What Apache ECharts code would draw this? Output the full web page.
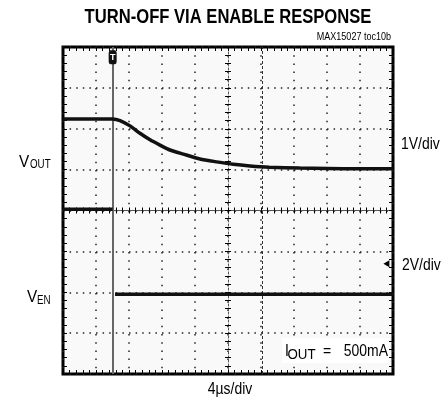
<!DOCTYPE html>
<html>
<head>
<meta charset="utf-8">
<script src="https://cdn.jsdelivr.net/npm/echarts@6/dist/echarts.min.js"></script>
<style>
  html, body { margin: 0; padding: 0; background: #fff; }
  #main { width: 448px; height: 400px; }
</style>
</head>
<body>
<div id="main"></div>
<script>
var chart = echarts.init(document.getElementById('main'));

// time in us (4us/div, 10 div), level in screen divisions (-4 .. 4)
var voutTime = [0, 6.02, 6.91, 8.12, 9.33, 10.55, 11.76, 12.97, 14.58, 16.6, 18.63, 20.64, 22.67, 25.0, 28.7, 32, 36, 40];
var voutDiv  = [2.24, 2.24, 2.20, 2.07, 1.89, 1.73, 1.60, 1.48, 1.38, 1.26, 1.19, 1.13, 1.09, 1.06, 1.04, 1.03, 1.02, 1.02];

var venTime = [0, 6.02, 6.15, 6.3, 40];
var venDiv  = [0.03, 0.03, null, -2.05, -2.05];

var triggerTime = 6.02;
var cursorTime = 24.1;
var enArrow = [39.2, -1.3];

var FONT = '"Liberation Sans", Arial, sans-serif';

function pairs(xs, ys) {
        var out = [];
        for (var i = 0; i < xs.length; i++) {
                out.push([xs[i], ys[i] === null ? '-' : ys[i]]);
        }
        return out;
}

function frameAxis(pos, extra) {
        var a = {
                type: 'value',
                position: pos,
                axisLine: { show: false, onZero: false },
                axisTick: { show: true, inside: true, length: 4, lineStyle: { color: '#000', width: 1 } },
                minorTick: { show: true, splitNumber: 5, length: 4, lineStyle: { color: '#000', width: 1 } },
                axisLabel: { show: false },
                splitLine: { show: false }
        };
        return Object.assign(a, extra);
}

function centerAxis(pos, inside, offset, extra) {
        var a = {
                type: 'value',
                position: pos,
                offset: offset,
                axisLine: { show: true, onZero: false, lineStyle: { color: '#555', width: 1 } },
                axisTick: { show: true, inside: inside, length: 3, lineStyle: { color: '#000', width: 1 } },
                minorTick: { show: true, splitNumber: 5, length: 3, lineStyle: { color: '#000', width: 1 } },
                axisLabel: { show: false },
                splitLine: { show: false }
        };
        return Object.assign(a, extra);
}

// narrow text: regular font squeezed horizontally
function label(text, x, y, size, sx, align, weight) {
        return {
                type: 'text', x: x, y: y, z: 100, scaleX: sx,
                style: {
                        text: text,
                        font: (weight || 'normal') + ' ' + size + 'px ' + FONT,
                        fill: '#000', align: align || 'left', verticalAlign: 'middle'
                }
        };
}

var xr = { min: 0, max: 40, interval: 4 };
var yr = { min: -4, max: 4, interval: 1 };

chart.setOption({
        animation: false,
        grid: {
                left: 63, right: 55, top: 47, bottom: 26,
                show: true, backgroundColor: '#f9f9f9',
                borderColor: '#000', borderWidth: 3
        },
        xAxis: [
                frameAxis('bottom', Object.assign({
                        splitLine: { show: true, lineStyle: { color: '#222', width: 1.5, type: [1.5, 6.7] } }
                }, xr)),
                frameAxis('top', Object.assign({}, xr)),
                centerAxis('bottom', true, -163.5, Object.assign({}, xr)),
                centerAxis('bottom', false, -163.5, Object.assign({}, xr))
        ],
        yAxis: [
                frameAxis('left', Object.assign({
                        splitLine: { show: true, lineStyle: { color: '#222', width: 1.5, type: [1.5, 5.1] } }
                }, yr)),
                frameAxis('right', Object.assign({}, yr)),
                centerAxis('left', true, -165, Object.assign({ axisLine: { show: true, onZero: false, lineStyle: { color: '#555', width: 1, type: [2, 2] } } }, yr)),
                centerAxis('left', false, -165, Object.assign({ axisLine: { show: false, onZero: false } }, yr))
        ],
        series: [
                {
                        name: 'VOUT',
                        type: 'line',
                        data: pairs(voutTime, voutDiv),
                        showSymbol: false,
                        smooth: 0.2,
                        lineStyle: { color: '#111', width: 3.5 },
                        z: 5
                },
                {
                        name: 'VEN',
                        type: 'line',
                        data: pairs(venTime, venDiv),
                        showSymbol: false,
                        connectNulls: false,
                        lineStyle: { color: '#111', width: 3.5 },
                        z: 5,
                        markLine: {
                                silent: true,
                                symbol: 'none',
                                label: { show: false },
                                data: [
                                        { xAxis: triggerTime, lineStyle: { color: '#666', width: 2, type: 'solid' } },
                                        { xAxis: cursorTime, lineStyle: { color: '#333', width: 1, type: [3, 2] } }
                                ]
                        },
                        markPoint: {
                                silent: true,
                                data: [
                                        {
                                                coord: [triggerTime, 3.75],
                                                symbol: 'roundRect',
                                                symbolSize: [8, 14],
                                                itemStyle: { color: '#111' },
                                                label: { show: true, formatter: 'T', color: '#fff', fontSize: 9, fontWeight: 'bold', fontFamily: FONT }
                                        },
                                        {
                                                coord: enArrow,
                                                symbol: 'triangle',
                                                symbolSize: [7, 6],
                                                symbolRotate: 90,
                                                itemStyle: { color: '#000' },
                                                label: { show: false }
                                        }
                                ]
                        }
                }
        ],
        graphic: [
                label('TURN-OFF VIA ENABLE RESPONSE', 228, 17, 20, 0.83, 'center', 'bold'),
                label('MAX15027 toc10b', 391, 37, 11, 0.82, 'right'),
                label('V', 19, 162, 17, 0.9),
                label('OUT', 30, 165, 12.5, 0.78),
                label('V', 27, 297, 17, 0.9),
                label('EN', 37, 301, 12.5, 0.78),
                label('1V/div', 401, 144, 17, 0.82),
                label('2V/div', 402, 265, 17, 0.82),
                label('4\u00b5s/div', 230, 389, 17, 0.82, 'center'),
                { type: 'rect', z: 90, shape: { x: 282, y: 338, width: 107, height: 25 }, style: { fill: '#fff' } },
                label('I', 285, 351, 17, 0.82),
                label('OUT', 287.5, 355, 14, 0.95),
                label('=', 327, 351, 17, 0.82, 'center'),
                label('500mA', 388, 351, 17, 0.82, 'right')
        ]
});

window.addEventListener('resize', function () {
        chart.resize();
});
</script>
</body>
</html>
